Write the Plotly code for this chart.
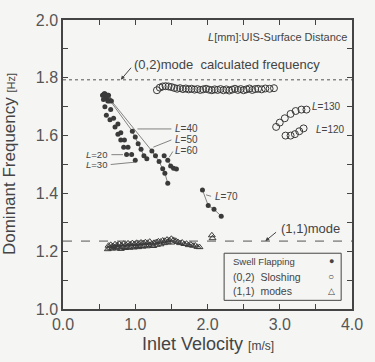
import plotly.graph_objects as go

# ---------------- data ----------------
L20_v = [0.55, 0.58, 0.60, 0.65, 0.72, 0.76, 0.80, 0.84, 0.88]
L20_f = [1.740, 1.700, 1.670, 1.655, 1.630, 1.605, 1.585, 1.560, 1.535]
L30_v = [0.58, 0.62, 0.66, 0.70, 0.76, 0.80, 0.85, 0.90, 0.95, 1.00]
L30_f = [1.745, 1.720, 1.690, 1.660, 1.640, 1.610, 1.585, 1.560, 1.535, 1.515]
L40_v = [0.60, 0.64, 0.96, 1.00, 1.04, 1.08, 1.12, 1.16]
L40_f = [1.740, 1.725, 1.615, 1.595, 1.572, 1.553, 1.530, 1.520]
L50_v = [0.62, 0.67, 1.23, 1.28, 1.33, 1.38, 1.41, 1.45]
L50_f = [1.740, 1.720, 1.547, 1.530, 1.510, 1.485, 1.470, 1.435]
L60_v = [1.40, 1.45, 1.49, 1.53, 1.57]
L60_f = [1.530, 1.515, 1.495, 1.487, 1.484]
L70_v = [1.93, 2.01, 2.09, 2.19]
L70_f = [1.412, 1.358, 1.345, 1.321]
cluster_v = [0.55, 0.57, 0.59, 0.61, 0.63, 0.56, 0.60, 0.64]
cluster_f = [1.740, 1.745, 1.740, 1.735, 1.740, 1.725, 1.728, 1.720]

slosh_v = [1.30, 1.34, 1.38, 1.42, 1.46, 1.50, 1.54, 1.58, 1.62, 1.66, 1.70, 1.74,
           1.78, 1.82, 1.86, 1.90, 1.94, 1.98, 2.02, 2.06, 2.10, 2.14, 2.18, 2.22,
           2.26, 2.30, 2.34, 2.38, 2.42, 2.46, 2.50, 2.54, 2.58, 2.62, 2.66, 2.70,
           2.75, 2.80, 2.86, 2.92]
slosh_f = [1.757, 1.766, 1.770, 1.771, 1.770, 1.768, 1.765, 1.762, 1.764, 1.761,
           1.763, 1.760, 1.762, 1.759, 1.761, 1.758, 1.760, 1.762, 1.759, 1.757,
           1.760, 1.758, 1.761, 1.757, 1.760, 1.756, 1.759, 1.762, 1.758, 1.761,
           1.757, 1.760, 1.763, 1.758, 1.761, 1.762, 1.760, 1.763, 1.762, 1.764]
L130_v = [2.95, 3.00, 3.07, 3.15, 3.22, 3.30, 3.37]
L130_f = [1.630, 1.645, 1.660, 1.675, 1.685, 1.690, 1.690]
L120_v = [3.08, 3.15, 3.21, 3.27, 3.33]
L120_f = [1.600, 1.600, 1.605, 1.615, 1.625]

tri_v = [0.62, 0.65, 0.68, 0.71, 0.74, 0.77, 0.80, 0.83, 0.86, 0.89, 0.92, 0.95, 0.98, 1.01, 1.04, 1.07, 1.10, 1.13, 1.16, 1.19,
         0.63, 0.66, 0.69, 0.72, 0.75, 0.78, 0.81, 0.84, 0.87, 0.90, 0.93, 0.96, 0.99, 1.02, 1.05, 1.08, 1.11, 1.14, 1.17, 1.20,
         1.23, 1.26, 1.29, 1.32, 1.35, 1.38, 1.41, 1.44, 1.47, 1.50, 1.53, 1.56,
         1.25, 1.30, 1.35, 1.40, 1.45, 1.50,
         1.59, 1.62, 1.65, 1.68, 1.71, 1.74, 1.77, 1.80, 1.83, 1.86, 1.89,
         2.06, 2.07]
tri_f = [1.207, 1.212, 1.209, 1.214, 1.210, 1.213, 1.208, 1.215, 1.211, 1.214, 1.212, 1.216, 1.213, 1.217, 1.214, 1.218, 1.216, 1.219, 1.217, 1.221,
         1.219, 1.222, 1.218, 1.224, 1.221, 1.225, 1.220, 1.226, 1.223, 1.227, 1.224, 1.228, 1.225, 1.229, 1.226, 1.230, 1.228, 1.231, 1.229, 1.233,
         1.226, 1.229, 1.231, 1.234, 1.233, 1.237, 1.236, 1.240, 1.238, 1.243, 1.239, 1.236,
         1.218, 1.222, 1.224, 1.228, 1.231, 1.230,
         1.232, 1.228, 1.230, 1.225, 1.226, 1.221, 1.223, 1.219, 1.220, 1.215, 1.214,
         1.255, 1.245]

mode02_f = 1.793
mode11_f = 1.235
x_range = [0.0, 4.0]
y_range = [1.0, 2.0]

INK = "#3a3a3a"
BG = "#f5f5f3"
FONT = "Liberation Sans, Arial, sans-serif"

fig = go.Figure()

dot = dict(symbol="circle", size=5, color=INK)
for vx, fy, mode in [(cluster_v, cluster_f, "markers"), (L20_v, L20_f, "markers"),
                     (L30_v, L30_f, "markers"), (L40_v, L40_f, "lines+markers"),
                     (L50_v, L50_f, "lines+markers"), (L60_v, L60_f, "lines+markers"),
                     (L70_v, L70_f, "lines+markers")]:
    fig.add_trace(go.Scatter(x=vx, y=fy, mode=mode, marker=dot,
                             line=dict(color="#666", width=0.8), showlegend=False))

ocirc = dict(symbol="circle-open", size=7, color=INK, line=dict(width=1))
for vx, fy in [(slosh_v, slosh_f), (L130_v, L130_f), (L120_v, L120_f)]:
    fig.add_trace(go.Scatter(x=vx, y=fy, mode="markers", marker=ocirc, showlegend=False))

fig.add_trace(go.Scatter(x=tri_v, y=tri_f, mode="markers",
                         marker=dict(symbol="triangle-up-open", size=6, color=INK, line=dict(width=1)),
                         showlegend=False))

# reference lines
fig.add_shape(type="line", x0=x_range[0], x1=x_range[1], y0=mode02_f, y1=mode02_f,
              xref="x", yref="y", line=dict(color="#555", width=1, dash="dot"))
fig.add_shape(type="line", x0=x_range[0], x1=x_range[1], y0=mode11_f, y1=mode11_f,
              xref="x", yref="y", line=dict(color="#555", width=1, dash="dash"))

# legend box
fig.add_shape(type="rect", x0=2.23, x1=3.85, y0=1.03, y1=1.193, xref="x", yref="y",
              line=dict(color="#444", width=1), fillcolor=BG)

ann = []
def T(x, y, text, size=10, xanchor="left", **kw):
    ann.append(dict(x=x, y=y, xref="x", yref="y", text=text, showarrow=False,
                    xanchor=xanchor, yanchor="middle",
                    font=dict(size=size, color="#444", family=FONT), **kw))

T(3.96, 1.942, "<i>L</i>[mm]:UIS-Surface Distance", size=11, xanchor="right")
T(0.96, 1.845, "(0,2)mode  calculated frequency", size=13)
T(2.99, 1.278, "(1,1)mode", size=13)
T(3.42, 1.7, "<i>L</i>=130", size=10)
T(3.47, 1.62, "<i>L</i>=120", size=10)
T(1.52, 1.623, "<i>L</i>=40", size=10)
T(1.52, 1.585, "<i>L</i>=50", size=10)
T(1.52, 1.548, "<i>L</i>=60", size=10)
T(0.29, 1.534, "<i>L</i>=20", size=9.5)
T(0.29, 1.500, "<i>L</i>=30", size=9.5)
T(2.07, 1.388, "<i>L</i>=70", size=10)
T(2.32, 1.166, "Swell Flapping", size=9.5)
T(2.32, 1.111, "(0,2)  Sloshing", size=10.5)
T(2.32, 1.061, "(1,1)  modes", size=10.5)
T(3.71, 1.166, "●", size=9, xanchor="center")
T(3.71, 1.111, "○", size=10, xanchor="center")
T(3.71, 1.061, "△", size=9, xanchor="center")

# arrows
ann.append(dict(x=0.8, y=mode02_f, xref="x", yref="y", ax=0.96, ay=1.84, axref="x", ayref="y",
                showarrow=True, arrowhead=2, arrowsize=0.8, arrowwidth=1, arrowcolor="#444", text=""))
ann.append(dict(x=2.8, y=mode11_f, xref="x", yref="y", ax=2.97, ay=1.27, axref="x", ayref="y",
                showarrow=True, arrowhead=2, arrowsize=0.8, arrowwidth=1, arrowcolor="#444", text=""))

# leader lines
for (x0, y0, x1, y1) in [(1.03, 1.623, 1.50, 1.623), (1.25, 1.56, 1.50, 1.585),
                         (1.47, 1.525, 1.52, 1.545), (0.67, 1.534, 0.83, 1.534),
                         (0.66, 1.500, 0.99, 1.508), (1.98, 1.395, 2.05, 1.39)]:
    fig.add_shape(type="line", x0=x0, x1=x1, y0=y0, y1=y1, xref="x", yref="y",
                  line=dict(color="#666", width=0.8))

# axis titles
ann.append(dict(x=0.5, y=-0.12, xref="paper", yref="paper", showarrow=False,
                text="Inlet Velocity <span style='font-size:12px'>[m/s]</span>",
                font=dict(size=18, color="#444", family=FONT),
                xanchor="center", yanchor="middle"))
ann.append(dict(x=-0.185, y=0.5, xref="paper", yref="paper", showarrow=False, textangle=-90,
                text="Dominant Frequency <span style='font-size:11px'>[Hz]</span>",
                font=dict(size=17, color="#444", family=FONT),
                xanchor="center", yanchor="middle"))

axis_common = dict(showgrid=False, zeroline=False, showline=True, linecolor="#444", linewidth=1.5,
                   mirror="ticks", ticks="inside", ticklen=5, tickcolor="#444", tickwidth=1,
                   tickformat=".1f",
                   tickfont=dict(size=16, color="#555", family=FONT))

fig.update_xaxes(range=x_range, dtick=1.0, tick0=0,
                 minor=dict(dtick=0.5, ticks="inside", ticklen=5, tickcolor="#444"), **axis_common)
fig.update_yaxes(range=y_range, dtick=0.2, tick0=1.0,
                 minor=dict(dtick=0.1, ticks="inside", ticklen=5, tickcolor="#444"), **axis_common)

fig.update_layout(width=375, height=362, margin=dict(l=63, r=13, t=13, b=53),
                  paper_bgcolor=BG, plot_bgcolor=BG, annotations=ann, showlegend=False)

fig.write_html("out.html")
